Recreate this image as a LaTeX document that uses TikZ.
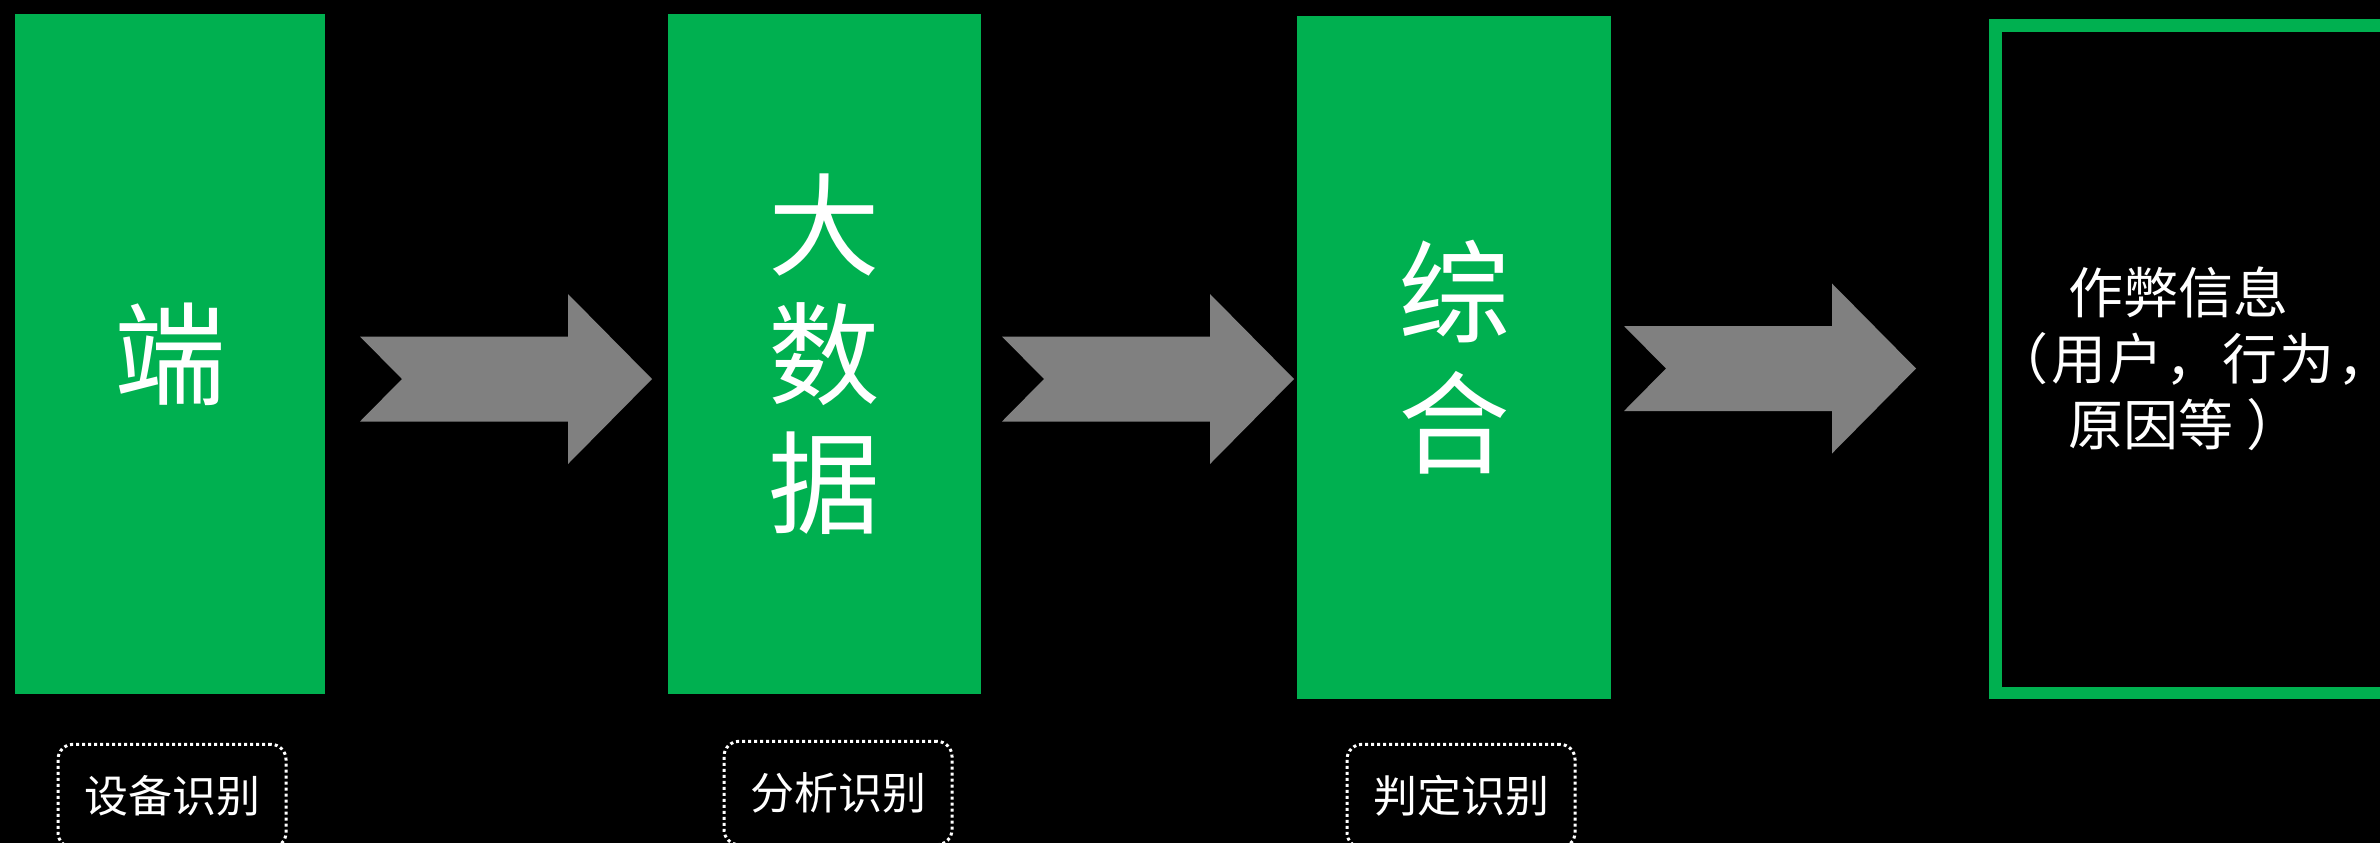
\documentclass[tikz,border=0pt]{standalone}
\usepackage{fontspec}
\setmainfont{Noto Sans CJK SC}
\definecolor{boxgreen}{HTML}{00B050}
\definecolor{arrowgray}{HTML}{808080}
\begin{document}
\begin{tikzpicture}[x=0.3pt,y=-0.3pt,
  greenbox/.style={fill=boxgreen, draw=none, inner sep=0pt, text=white, align=center},
  bigfont/.style={font=\fontsize{33.5}{38.7}\selectfont},
  labelbox/.style={draw=white, line width=0.9pt, dash pattern=on 0.9pt off 0.9pt,
    rounded corners=4.5pt, minimum width=68.4pt, minimum height=31pt, inner sep=0pt,
    text=white, font=\fontsize{13.2}{15}\selectfont},
  bigarrow/.pic={\fill[arrowgray] (0,-42.5) -- (208,-42.5) -- (208,-85) -- (292,0)
      -- (208,85) -- (208,42.5) -- (0,42.5) -- (42,0) -- cycle;}
]
\useasboundingbox (0,0) rectangle (2380,843);
\fill[black] (0,0) rectangle (2380,843);
\begin{scope}
\clip (0,0) rectangle (2380,843);

% green boxes
\node[greenbox, minimum width=93pt, minimum height=203.9pt, bigfont] (b1) at (170,353.8) {端};
\node[greenbox, minimum width=93.9pt, minimum height=204pt, bigfont] (b2) at (824.7,354) {大\\数\\据};
\node[greenbox, minimum width=94pt, minimum height=204.9pt,
      font=\fontsize{33.5}{39.3}\selectfont] (b3) at (1454,357) {综\\合};

% outcome box
\node[draw=boxgreen, line width=3.72pt, minimum width=127.35pt, minimum height=200.25pt,
      inner sep=0pt] (b4) at (2207.75,359.25) {};
\node[text=white, align=center, inner sep=0pt,
      font=\fontsize{16.5}{19.8}\selectfont] (b4text) at (2178,359)
  {作弊信息\\\hspace*{9pt}{\addfontfeature{LetterSpace=4}（用户，行为，}\\原因等\rlap{\kern0.25em ）}\hphantom{等}};

% arrows
\pic at (360,379) {bigarrow};
\pic at (1002,379) {bigarrow};
\pic at (1624,368.5) {bigarrow};

% labels
\node[labelbox] (l1) at (172,796) {设备识别};
\node[labelbox] (l2) at (838,793) {分析识别};
\node[labelbox] (l3) at (1461,796) {判定识别};
\end{scope}
\end{tikzpicture}
\end{document}
